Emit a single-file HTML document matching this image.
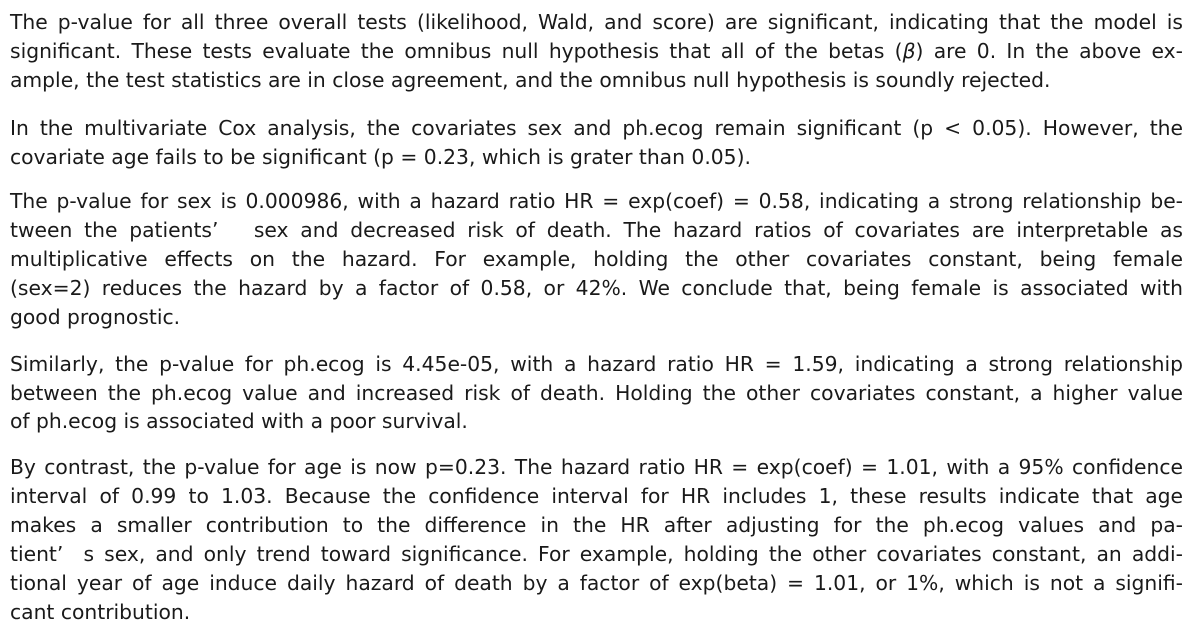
<!DOCTYPE html>
<html><head><meta charset="utf-8"><style>
html,body{margin:0;padding:0;background:#fff;}
body{width:1193px;height:640px;position:relative;overflow:hidden;font-family:"DejaVu Sans","Liberation Sans",sans-serif;font-size:20.3px;color:#1a1a1a;}
.l{position:absolute;left:10px;width:1173px;height:29px;line-height:29px;white-space:nowrap;text-align:justify;text-align-last:justify;letter-spacing:0px;}
.e{text-align-last:left;}
</style></head><body>
<div>
<div class="l" style="top:8px">The p-value for all three overall tests (likelihood, Wald, and score) are significant, indicating that the model is</div>
<div class="l" style="top:37px">significant. These tests evaluate the omnibus null hypothesis that all of the betas (<i>β</i>) are 0. In the above ex-</div>
<div class="l e" style="top:66px">ample, the test statistics are in close agreement, and the omnibus null hypothesis is soundly rejected.</div>
</div>
<div>
<div class="l" style="top:114px">In the multivariate Cox analysis, the covariates sex and ph.ecog remain significant (p &lt; 0.05). However, the</div>
<div class="l e" style="top:143px">covariate age fails to be significant (p = 0.23, which is grater than 0.05).</div>
</div>
<div>
<div class="l" style="top:187px">The p-value for sex is 0.000986, with a hazard ratio HR = exp(coef) = 0.58, indicating a strong relationship be-</div>
<div class="l" style="top:216px">tween the patients’&nbsp;&nbsp; sex and decreased risk of death. The hazard ratios of covariates are interpretable as</div>
<div class="l" style="top:245px">multiplicative effects on the hazard. For example, holding the other covariates constant, being female</div>
<div class="l" style="top:274px">(sex=2) reduces the hazard by a factor of 0.58, or 42%. We conclude that, being female is associated with</div>
<div class="l e" style="top:303px">good prognostic.</div>
</div>
<div>
<div class="l" style="top:350px">Similarly, the p-value for ph.ecog is 4.45e-05, with a hazard ratio HR = 1.59, indicating a strong relationship</div>
<div class="l" style="top:379px">between the ph.ecog value and increased risk of death. Holding the other covariates constant, a higher value</div>
<div class="l e" style="top:407px">of ph.ecog is associated with a poor survival.</div>
</div>
<div>
<div class="l" style="top:453px">By contrast, the p-value for age is now p=0.23. The hazard ratio HR = exp(coef) = 1.01, with a 95% confidence</div>
<div class="l" style="top:482px">interval of 0.99 to 1.03. Because the confidence interval for HR includes 1, these results indicate that age</div>
<div class="l" style="top:511px">makes a smaller contribution to the difference in the HR after adjusting for the ph.ecog values and pa-</div>
<div class="l" style="top:540px">tient’&nbsp;&nbsp;s sex, and only trend toward significance. For example, holding the other covariates constant, an addi-</div>
<div class="l" style="top:569px">tional year of age induce daily hazard of death by a factor of exp(beta) = 1.01, or 1%, which is not a signifi-</div>
<div class="l e" style="top:598px">cant contribution.</div>
</div>
</body></html>
